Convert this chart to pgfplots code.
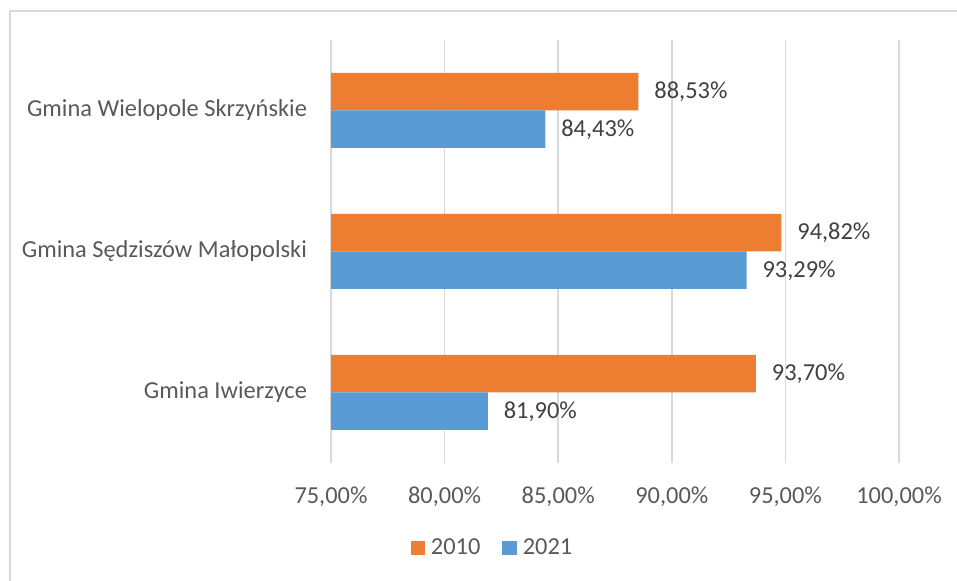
\documentclass[border=0pt]{standalone}
\usepackage{fontspec}
\setmainfont{Carlito}
\usepackage{pgfplots}
\pgfplotsset{compat=1.18}
\definecolor{xorange}{HTML}{ED7D31}
\definecolor{xblue}{HTML}{5B9BD5}
\definecolor{xgrid}{HTML}{D9D9D9}
\definecolor{xtext}{HTML}{595959}
\definecolor{xlab}{HTML}{404040}
\begin{document}
\begin{tikzpicture}
\path[use as bounding box] (0,0) rectangle (478.5pt,290.5pt);
\draw[xgrid, line width=0.6pt] (478.5pt,285pt) -- (5pt,285pt) -- (5pt,0pt);
\begin{axis}[
  at={(165.5pt,59pt)}, anchor=south west,
  scale only axis, width=284pt, height=211.5pt,
  xbar, bar width=0.266,
  xmin=75, xmax=100, ymin=-0.5, ymax=2.5,
  xtick={75,80,85,90,95,100},
  xticklabels={{75,00\%},{80,00\%},{85,00\%},{90,00\%},{95,00\%},{100,00\%}},
  ytick={0,1,2},
  yticklabels={Gmina Iwierzyce, Gmina Sędziszów Małopolski, Gmina Wielopole Skrzyńskie},
  xmajorgrids, major grid style={xgrid, line width=0.75pt},
  axis line style={draw=none},
  major tick length=0pt,
  tick label style={font=\fontsize{12.2}{14}\selectfont, text=xtext},
  xticklabel style={yshift=-8.5pt},
  yticklabel style={xshift=-8.5pt},
  /pgf/number format/assume math mode=true,
  point meta=x,
  nodes near coords={\pgfmathprintnumber[fixed,fixed zerofill,precision=2,use comma]{\pgfplotspointmeta}\%},
  nodes near coords style={font=\fontsize{12.2}{14}\selectfont, text=xlab, anchor=west, xshift=4.5pt},
  legend columns=2,
  legend style={at={(0.286,-0.201)}, anchor=center, draw=none, fill=none,
    font=\fontsize{12.2}{14}\selectfont, text=xtext,
    /tikz/every even column/.append style={column sep=9pt}},
  legend image code/.code={\fill[#1] (0pt,-3.6pt) rectangle (7.2pt,3.6pt); \path (8.2pt,0pt);},
]
\addplot[fill=xorange, draw=none, bar shift=0.133] coordinates {(93.70,0) (94.82,1) (88.53,2)};
\addplot[fill=xblue, draw=none, bar shift=-0.133] coordinates {(81.90,0) (93.29,1) (84.43,2)};
\legend{2010,2021}
\end{axis}
\end{tikzpicture}
\end{document}
